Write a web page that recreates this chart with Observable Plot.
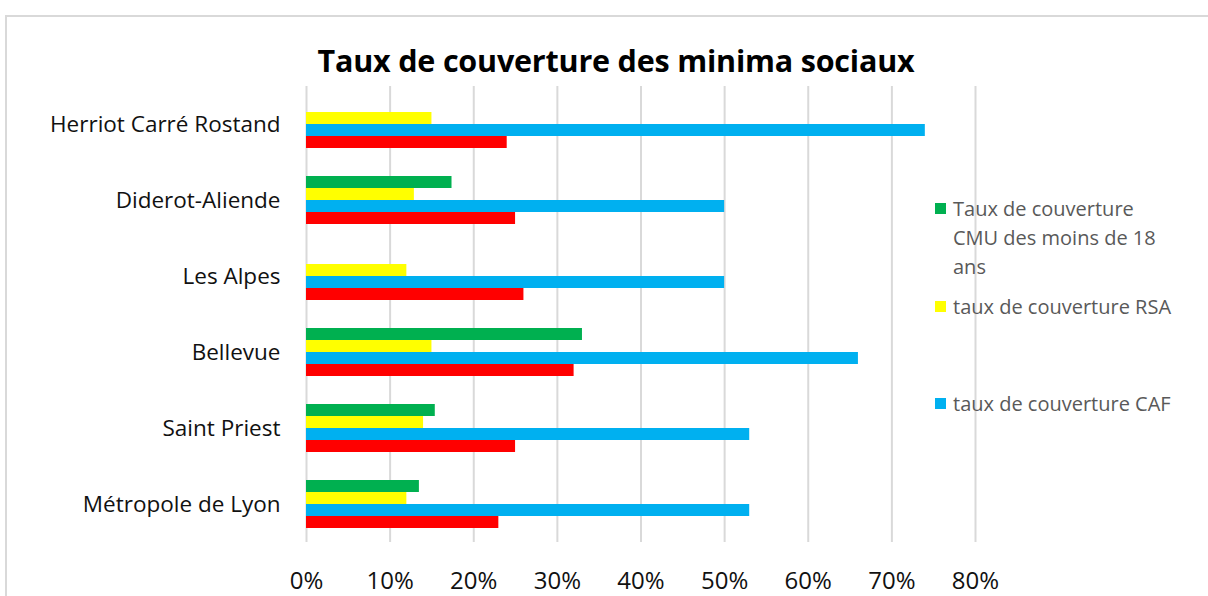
<!DOCTYPE html>
<html>
<head>
<meta charset="utf-8">
<script src="https://cdn.jsdelivr.net/npm/d3@7"></script>
<script src="https://cdn.jsdelivr.net/npm/@observablehq/plot@0.6"></script>
<style>
  html, body { margin: 0; padding: 0; background: #fff; }
  #wrap { position: relative; width: 1208px; height: 596px; overflow: hidden; font-family: "Open Sans", sans-serif; }
  #frame { position: absolute; left: 5px; top: 15px; width: 1210px; height: 600px; border-top: 2px solid #d9d9d9; border-left: 2px solid #d9d9d9; }
  #title { position: absolute; left: 0; width: 1232px; top: 39px; text-align: center; font-size: 30.5px; font-weight: 700; color: #000; letter-spacing: -0.2px; }
  #chart { position: absolute; left: 0; top: 0; }
  .leg { position: absolute; left: 935px; font-size: 20px; line-height: 29px; color: #595959; }
  .leg .sw { position: absolute; left: 0; top: 9px; width: 11px; height: 11px; }
  .leg .tx { position: absolute; left: 18px; white-space: nowrap; }
</style>
</head>
<body>
<div id="wrap">
  <div id="frame"></div>
  <div id="chart"></div>
  <div id="title">Taux de couverture des minima sociaux</div>
  <div id="legend"></div>
</div>
<script>
// ---- data (values in %) ----
const categories = ["Herriot Carré Rostand", "Diderot-Aliende", "Les Alpes", "Bellevue", "Saint Priest", "Métropole de Lyon"];
const seriesKeys = ["cmu", "rsa", "caf", "s4"];
const seriesColors = ["#00b050", "#ffff00", "#00b0f0", "#ff0000"];
const legendLabels = ["Taux de couverture<br>CMU des moins de 18<br>ans", "taux de couverture RSA", "taux de couverture CAF"];
const cmuValues = [null, 17.4, null, 33, 15.4, 13.5];
const rsaValues = [15, 12.9, 12, 15, 14, 12];
const cafValues = [74, 50, 50, 66, 53, 53];
const s4Values = [24, 25, 26, 32, 25, 23];
const xTicks = [0, 10, 20, 30, 40, 50, 60, 70, 80];

const valuesBySeries = {cmu: cmuValues, rsa: rsaValues, caf: cafValues, s4: s4Values};
const rows = [];
categories.forEach((c, i) => {
  seriesKeys.forEach(s => {
    const v = valuesBySeries[s][i];
    if (v != null) rows.push({category: c, series: s, value: v});
  });
});

const chart = Plot.plot({
  width: 1208,
  height: 596,
  marginTop: 84,
  marginBottom: 52,
  marginLeft: 306,
  marginRight: 233,
  style: {fontFamily: "Open Sans, sans-serif", background: "transparent"},
  x: {domain: [0, 80]},
  y: {domain: seriesKeys, paddingInner: 0, paddingOuter: 0.96, axis: null},
  fy: {domain: categories, padding: 0},
  color: {domain: seriesKeys, range: seriesColors},
  marks: [
    Plot.gridX(xTicks, {stroke: "#d9d9d9", strokeWidth: 2, strokeOpacity: 1}),
    Plot.barX(rows, {x: "value", y: "series", fy: "category", fill: "series", inset: 0}),
    Plot.axisFy({anchor: "left", tickSize: 0, tickPadding: 26, fontSize: 22.5, label: null, fill: "#111"}),
    Plot.axisX(xTicks, {anchor: "bottom", tickSize: 0, tickPadding: 29, fontSize: 24, tickFormat: d => d + "%", label: null, fill: "#111"})
  ]
});
document.getElementById("chart").appendChild(chart);

// legend (first three series, as in the reference)
const legendTops = [193.5, 291.5, 388.5];
const legend = document.getElementById("legend");
legendLabels.forEach((lab, i) => {
  const d = document.createElement("div");
  d.className = "leg";
  d.style.top = legendTops[i] + "px";
  d.innerHTML = `<div class="sw" style="background:${seriesColors[i]}"></div><div class="tx">${lab}</div>`;
  legend.appendChild(d);
});
</script>
</body>
</html>
